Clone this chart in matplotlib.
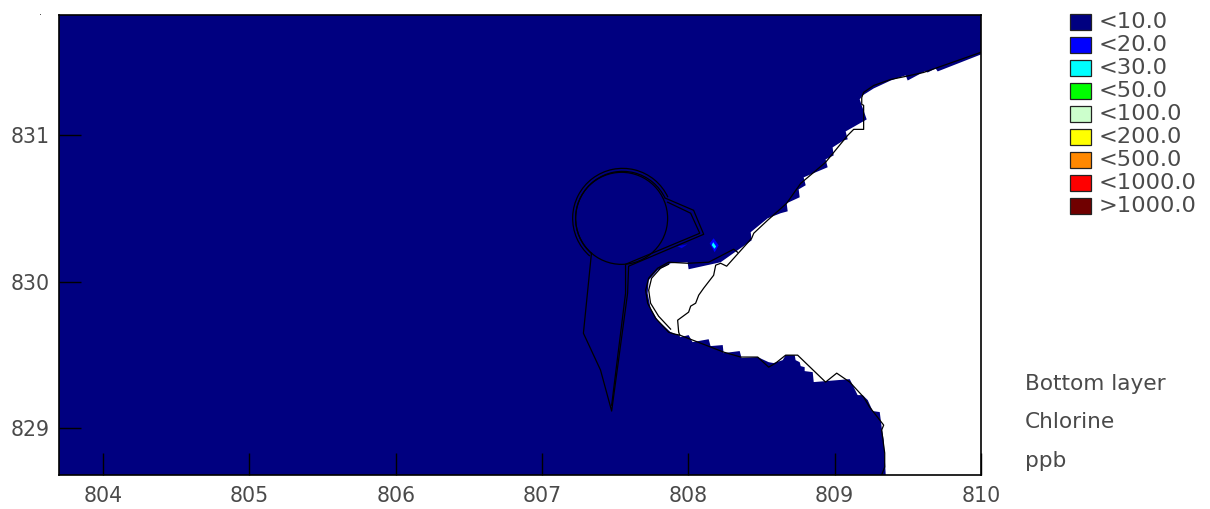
import matplotlib
matplotlib.use("Agg")
import matplotlib.pyplot as plt
from matplotlib.patches import Polygon, Ellipse, Arc, Rectangle

XLIM = (803.696, 810.0)
YLIM = (828.679, 831.826)
xticks = [804, 805, 806, 807, 808, 809, 810]
yticks = [829, 830, 831]
legend_labels = ["<10.0", "<20.0", "<30.0", "<50.0", "<100.0", "<200.0", "<500.0", "<1000.0", ">1000.0"]
legend_colors = ["#000080", "#0000ff", "#00ffff", "#00ff00", "#ccffcc", "#ffff00", "#ff8800", "#ff0000", "#700000"]
notes = ["Bottom layer", "Chlorine", "ppb"]

water_x = [810.0, 809.704, 809.690, 809.636, 809.615, 809.499, 809.485, 809.383, 809.267, 809.191, 809.171, 809.185,
           809.219, 809.075, 809.089, 809.062, 808.986, 808.993, 808.938, 808.952, 808.788, 808.802, 808.754, 808.761,
           808.672, 808.679, 808.631, 808.542, 808.426, 808.433, 808.221, 808.002, 807.995, 807.879, 807.790, 807.729,
           807.722, 807.742, 807.790, 807.879, 807.934, 807.947, 808.002, 808.029, 808.139, 808.152, 808.235, 808.241,
           808.351, 808.364, 808.474, 808.549, 808.583, 808.645, 808.665, 808.727, 808.733, 808.761, 808.768, 808.795,
           808.795, 808.850, 808.857, 809.103, 809.123, 809.157, 809.191, 809.226, 809.260, 809.308, 809.321, 809.335,
           809.342, 809.349, 803.696, 803.696, 810.0]
water_y = [831.553, 831.437, 831.457, 831.430, 831.437, 831.375, 831.410, 831.375, 831.321, 831.273, 831.246, 831.205,
           831.109, 831.027, 830.973, 830.966, 830.918, 830.863, 830.836, 830.782, 830.713, 830.659, 830.631, 830.577,
           830.536, 830.481, 830.468, 830.433, 830.338, 830.283, 830.133, 830.085, 830.133, 830.126, 830.078, 830.010,
           829.921, 829.818, 829.737, 829.655, 829.635, 829.621, 829.635, 829.587, 829.607, 829.560, 829.567, 829.512,
           829.526, 829.478, 829.485, 829.450, 829.444, 829.464, 829.498, 829.498, 829.464, 829.450, 829.423, 829.416,
           829.389, 829.382, 829.314, 829.334, 829.294, 829.225, 829.225, 829.191, 829.116, 829.109, 829.007, 828.918,
           828.802, 828.679, 828.679, 831.826, 831.826]

coast_x = [809.998, 809.608, 809.485, 809.383, 809.267, 809.198, 809.185, 809.185, 809.198, 809.198, 809.130, 809.089,
           808.938, 808.768, 808.672, 808.542, 808.447, 808.433, 808.262, 808.221, 808.187, 808.173, 808.105, 808.071,
           808.050, 808.016, 808.002, 807.927, 807.934, 807.941, 808.084, 808.241, 808.358, 808.474, 808.549, 808.597,
           808.665, 808.747, 808.938, 809.014, 809.103, 809.198, 809.239, 809.335, 809.321, 809.342, 809.342, 809.321]
coast_y = [831.567, 831.430, 831.403, 831.382, 831.341, 831.294, 831.259, 831.212, 831.205, 831.041, 831.041, 831.000,
           830.816, 830.672, 830.536, 830.420, 830.331, 830.297, 830.106, 830.126, 830.113, 830.044, 829.956, 829.908,
           829.853, 829.833, 829.792, 829.737, 829.655, 829.635, 829.580, 829.519, 829.485, 829.485, 829.416, 829.444,
           829.498, 829.498, 829.314, 829.375, 829.314, 829.211, 829.143, 829.020, 828.986, 828.829, 828.734, 828.679]

bay_x = [808.337, 808.310, 808.139, 807.995, 807.865, 807.790, 807.729, 807.708, 807.722, 807.776, 807.865, 807.906, 807.941]
bay_y = [830.201, 830.222, 830.133, 830.126, 830.133, 830.092, 830.024, 829.942, 829.853, 829.751, 829.655, 829.642, 829.635]
bay2_x = [807.865, 807.810, 807.749, 807.729, 807.742, 807.797, 807.879]
bay2_y = [830.119, 830.092, 830.024, 829.942, 829.853, 829.764, 829.676]

wall_x = [807.845, 808.036, 808.105, 807.592, 807.585, 807.476, 807.400, 807.283, 807.338]
wall_y = [830.570, 830.488, 830.324, 830.106, 829.921, 829.116, 829.396, 829.648, 830.195]
wall2_x = [807.859, 808.016, 808.078, 807.571, 807.571, 807.476]
wall2_y = [830.543, 830.468, 830.331, 830.119, 829.921, 829.156]

plume_x = [808.146, 808.173, 808.207, 808.180]
plume_y = [830.263, 830.297, 830.249, 830.201]
core_x = [808.160, 808.170, 808.190, 808.178]
core_y = [830.250, 830.270, 830.240, 830.225]
patch_x = [807.927, 807.995, 807.954]
patch_y = [830.242, 830.256, 830.229]

W, H = 1210, 509
fig = plt.figure(figsize=(W / 100, H / 100), dpi=100, facecolor="white")
L, R, T, B = 58.5, 981, 14.5, 475
ax = fig.add_axes([L / W, 1 - B / H, (R - L) / W, (B - T) / H], facecolor="white")
ax.set_xlim(*XLIM)
ax.set_ylim(*YLIM)

ax.add_patch(Polygon(list(zip(water_x, water_y)), closed=True, fc="#000080", ec="none", zorder=1))
ax.add_patch(Polygon(list(zip(plume_x, plume_y)), closed=True, fc="#0000ff", ec="none", zorder=2))
ax.add_patch(Polygon(list(zip(core_x, core_y)), closed=True, fc="#00ffff", ec="none", zorder=2.1))
ax.add_patch(Polygon(list(zip(patch_x, patch_y)), closed=True, fc="#0000e0", ec="none", zorder=2))

for xs, ys in [(coast_x, coast_y), (bay_x, bay_y), (bay2_x, bay2_y), (wall_x, wall_y), (wall2_x, wall2_y)]:
    ax.plot(xs, ys, color="black", lw=0.9, zorder=3, solid_joinstyle="round")

ax.add_patch(Ellipse((807.544, 830.433), 0.629, 0.629, fc="none", ec="black", lw=0.9, zorder=3))
ax.add_patch(Arc((807.551, 830.433), 0.683, 0.683, theta1=25, theta2=229, ec="black", lw=0.9, zorder=3))
ax.add_patch(Arc((807.551, 830.433), 0.642, 0.642, theta1=25, theta2=229, ec="black", lw=0.9, zorder=3))

ax.set_xticks(xticks)
ax.set_yticks(yticks)
ax.tick_params(axis="both", direction="in", length=16, width=1, color="black", labelsize=14.8, labelcolor="#4a4a4a")
ax.tick_params(axis="x", pad=8)
ax.tick_params(axis="y", pad=6)
for s in ax.spines.values():
    s.set_linewidth(1.2)
    s.set_color("black")
    s.set_zorder(5)

ov = fig.add_axes([0, 0, 1, 1], facecolor="none")
ov.set_xlim(0, W)
ov.set_ylim(H, 0)
ov.axis("off")
ov.add_patch(Rectangle((40, 14), 1, 1, fc="#555555", ec="none"))
for i, (lab, col) in enumerate(zip(legend_labels, legend_colors)):
    y = 13.5 + 23 * i
    ov.add_patch(Rectangle((1069.5, y), 21, 16.5, fc=col, ec="#222222", lw=0.9))
    ov.text(1099, y + 8.5, lab, fontsize=16.2, color="#4a4a4a", va="center", ha="left")
for i, t in enumerate(notes):
    ov.text(1025, 384 + 38.5 * i, t, fontsize=15.6, color="#4a4a4a", va="center", ha="left")

fig.savefig("out.png", dpi=100)
